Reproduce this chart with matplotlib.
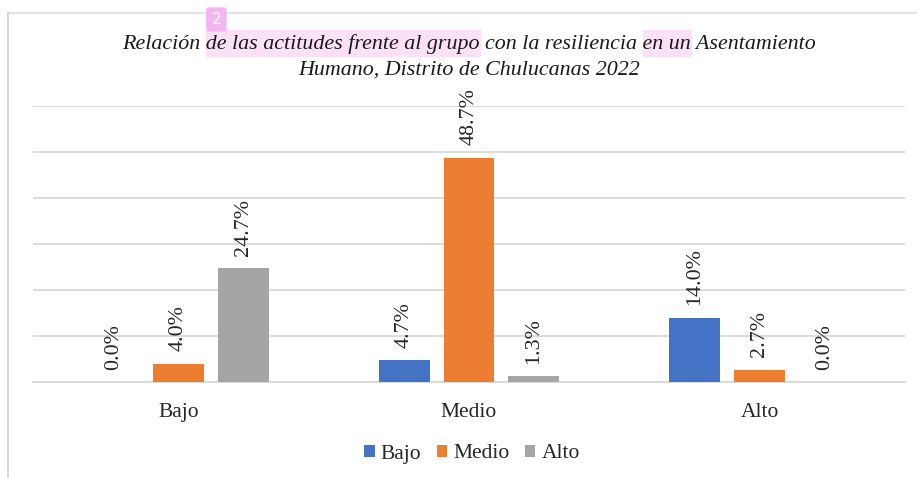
import numpy as np
import matplotlib.pyplot as plt
from matplotlib.lines import Line2D
from matplotlib.patches import Rectangle, FancyBboxPatch

plt.rcParams['font.family'] = ['Liberation Serif', 'DejaVu Serif']

categorias = ['Bajo', 'Medio', 'Alto']
series = ['Bajo', 'Medio', 'Alto']
valores = {
    'Bajo': [0.0, 4.7, 14.0],
    'Medio': [4.0, 48.7, 2.7],
    'Alto': [24.7, 1.3, 0.0],
}
colores = ['#4472C4', '#ED7D31', '#A5A5A5']

titulo_1 = 'Relación de las actitudes frente al grupo con la resiliencia en un Asentamiento'
titulo_2 = 'Humano, Distrito de Chulucanas 2022'
resaltados = ['de las actitudes frente al grupo', 'en un']

W, H = 917, 478
fig = plt.figure(figsize=(W / 100, H / 100), dpi=100)
ax = fig.add_axes([33 / W, (H - 382) / H, (905 - 33) / W, (382 - 106) / H])

x = np.arange(len(categorias))
ancho = 0.175
paso = 0.223
for i, (s, c) in enumerate(zip(series, colores)):
    pos = x + (i - 1) * paso
    barras = ax.bar(pos, valores[s], width=ancho, color=c, label=s, zorder=3)
    for b, v in zip(barras, valores[s]):
        ax.annotate(f'{v:.1f}%', (b.get_x() + b.get_width() / 2, b.get_height()),
                    xytext=(0, 9), textcoords='offset points', rotation=90,
                    ha='center', va='bottom', fontsize=15.8, color='#262626')

ax.set_xlim(-0.5, 2.5)
ax.set_ylim(0, 60)
ax.set_yticks(np.arange(0, 61, 10))
ax.set_yticklabels([])
ax.yaxis.grid(True, color='#D9D9D9', linewidth=1.3, zorder=0)
ax.set_axisbelow(True)
ax.tick_params(axis='y', length=0)
ax.set_xticks(x)
ax.set_xticklabels(categorias, fontsize=15.5)
ax.tick_params(axis='x', length=0, pad=15, labelcolor='#262626')
for lado in ['top', 'right', 'left']:
    ax.spines[lado].set_visible(False)
ax.spines['bottom'].set_color('#D9D9D9')
ax.spines['bottom'].set_linewidth(1.3)

ax.legend(loc='center', bbox_to_anchor=(472 / W, (H - 454) / H),
          bbox_transform=fig.transFigure, ncol=3, frameon=False,
          fontsize=15.5, handlelength=0.5, handleheight=0.5,
          handletextpad=0.28, columnspacing=0.7, labelcolor='#262626')

# marco del gráfico
fig.add_artist(Line2D([8 / W, 1], [(H - 13) / H] * 2, color='#E3E3E3', lw=1.5))
fig.add_artist(Line2D([8 / W] * 2, [0, (H - 13) / H], color='#D0D0D0', lw=1.2))

# título con resaltado
prop = dict(fontsize=15.8, fontstyle='italic', color='#1a1a1a')
y1 = (H - 44) / H
t1 = fig.text(0.5 * (33 + 905) / W, y1, titulo_1, ha='center', va='center', zorder=5, **prop)
fig.text((33 + 905) / 2 / W, (H - 70) / H, titulo_2, ha='center', va='center', zorder=5, **prop)

fig.canvas.draw()
r = fig.canvas.get_renderer()
x0 = t1.get_window_extent(r).x0


def ancho_txt(s):
    t = fig.text(0, 0, s, **prop)
    w = t.get_window_extent(r).width
    t.remove()
    return w


for seg in resaltados:
    k = titulo_1.index(seg)
    der = x0 + ancho_txt(titulo_1[:k + len(seg)])
    izq = der - ancho_txt(seg)
    fig.add_artist(Rectangle((izq / W, (H - 56) / H), (der - izq) / W, 26 / H,
                             transform=fig.transFigure, color='#FAE1F6', zorder=1))
    if seg == resaltados[0]:
        fig.add_artist(FancyBboxPatch(((izq + 1) / W, (H - 31) / H), 19 / W, 23 / H,
                                      boxstyle='round,pad=0,rounding_size=0.004',
                                      transform=fig.transFigure, color='#F3B6F0',
                                      zorder=2))
        fig.text((izq + 10.5) / W, (H - 20) / H, '2', ha='center', va='center',
                 color='white', fontsize=11, family='DejaVu Sans', zorder=5)

fig.savefig('out.png', dpi=100)
